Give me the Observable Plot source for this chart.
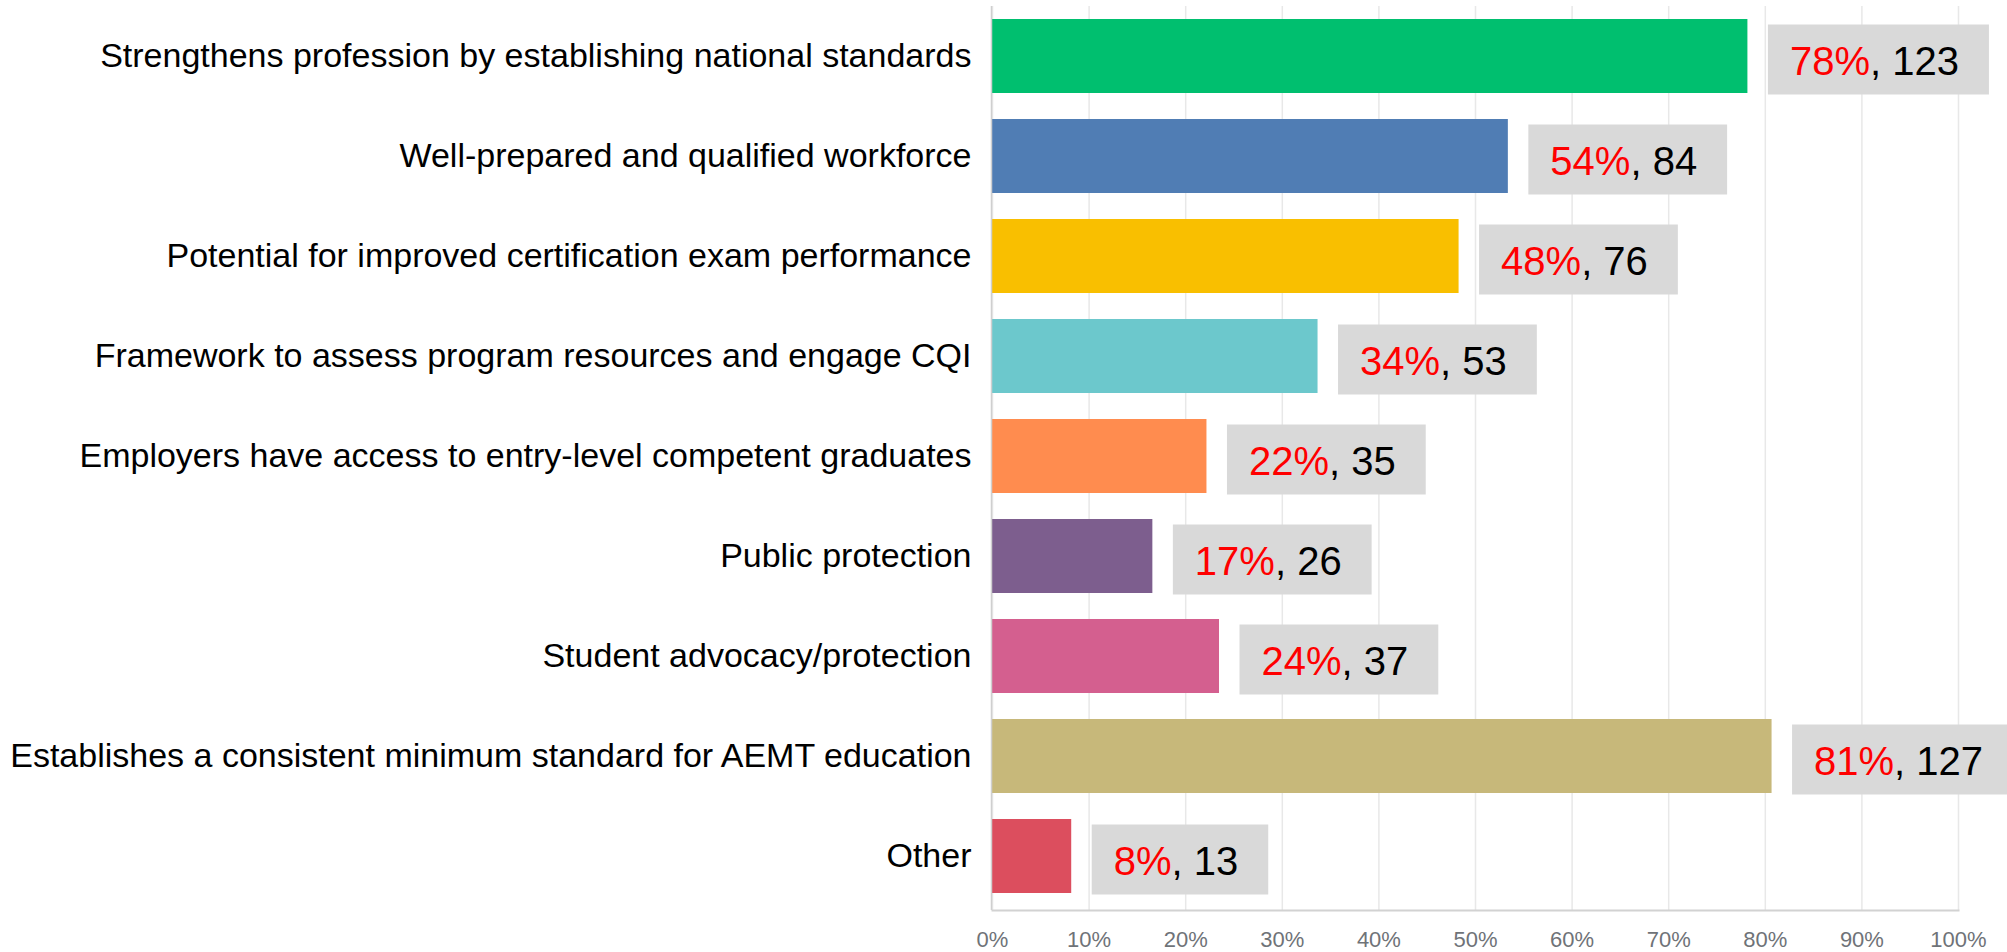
<!DOCTYPE html>
<html>
<head>
<meta charset="utf-8">
<script src="https://cdn.jsdelivr.net/npm/d3@7"></script>
<script src="https://cdn.jsdelivr.net/npm/@observablehq/plot@0.6"></script>
<style>
  html, body { margin: 0; padding: 0; background: #fff; overflow: hidden; }
</style>
</head>
<body>
<div id="chart"></div>
<script>
const categories = [
  "Strengthens profession by establishing national standards",
  "Well-prepared and qualified workforce",
  "Potential for improved certification exam performance",
  "Framework to assess program resources and engage CQI",
  "Employers have access to entry-level competent graduates",
  "Public protection",
  "Student advocacy/protection",
  "Establishes a consistent minimum standard for AEMT education",
  "Other"
];
const percentValues = [78.2, 53.4, 48.3, 33.7, 22.2, 16.6, 23.5, 80.7, 8.2];
const percentLabels = [78, 54, 48, 34, 22, 17, 24, 81, 8];
const counts = [123, 84, 76, 53, 35, 26, 37, 127, 13];
const barColors = ["#00bf6f", "#507db4", "#f9bf00", "#6cc8cc", "#ff8c4f", "#7d5e8e", "#d45f8f", "#c7b87a", "#dc4e5e"];
const xTicks = [0, 10, 20, 30, 40, 50, 60, 70, 80, 90, 100];

const data = categories.map((label, i) => ({
  label,
  value: percentValues[i],
  pct: percentLabels[i],
  count: counts[i],
  color: barColors[i]
}));

const FONT = "'Liberation Sans', Arial, Helvetica, sans-serif";
const LABEL_SIZE = 40;
const measure = document.createElement("canvas").getContext("2d");
measure.font = `${LABEL_SIZE}px ${FONT}`;
const svgNS = "http://www.w3.org/2000/svg";

function boxedLabels(index, scales, values, dims, context, next) {
  const g = next(index, scales, values, dims, context);
  const texts = Array.from(g.querySelectorAll("text"));
  texts.forEach((t, j) => {
    const i = typeof t.__data__ === "number" ? t.__data__ : index[j];
    const d = data[i];
    const pctStr = d.pct + "%";
    const rest = ", " + d.count;
    const w = measure.measureText(pctStr + rest).width;
    t.textContent = "";
    const s1 = document.createElementNS(svgNS, "tspan");
    s1.setAttribute("fill", "#ff0000");
    s1.textContent = pctStr;
    const s2 = document.createElementNS(svgNS, "tspan");
    s2.setAttribute("fill", "#000000");
    s2.textContent = rest;
    t.append(s1, s2);
    const r = document.createElementNS(svgNS, "rect");
    const tr = t.getAttribute("transform");
    if (tr) r.setAttribute("transform", tr);
    r.setAttribute("x", -22);
    r.setAttribute("y", -38);
    r.setAttribute("width", w + 52);
    r.setAttribute("height", 70);
    r.setAttribute("fill", "#d9d9d9");
    g.insertBefore(r, t);
  });
  return g;
}

const chart = Plot.plot({
  width: 2007,
  height: 952,
  marginLeft: 992,
  marginRight: 49,
  marginTop: 6,
  marginBottom: 42,
  style: { fontFamily: FONT, color: "#000", background: "#fff", overflow: "visible" },
  x: { domain: [0, 100], label: null },
  y: { domain: categories, paddingInner: 0.264, paddingOuter: 0.132, align: 0.434, label: null },
  color: { type: "identity" },
  marks: [
    Plot.gridX(xTicks, { stroke: "#e8e8e8", strokeOpacity: 1, strokeWidth: 1.5 }),
    Plot.barX(data, { x: "value", y: "label", fill: "color" }),
    Plot.ruleX([0], { stroke: "#cfcfcf", strokeWidth: 1.5, dx: -1 }),
    Plot.frame({ anchor: "bottom", stroke: "#d2d2d2", strokeWidth: 2 }),
    Plot.axisX(xTicks, { tickSize: 0, tickPadding: 21, fontSize: 22, fill: "#6f7378", tickFormat: d => d + "%", label: null }),
    Plot.axisY({ tickSize: 0, tickPadding: 21, fontSize: 34, fill: "#000", label: null }),
    Plot.text(data, {
      x: "value",
      y: "label",
      text: d => `${d.pct}%, ${d.count}`,
      textAnchor: "start",
      dx: 42,
      dy: 6,
      fontSize: LABEL_SIZE,
      fill: "#000",
      ariaLabel: "value label",
      render: boxedLabels
    })
  ]
});

document.getElementById("chart").appendChild(chart);
</script>
</body>
</html>
